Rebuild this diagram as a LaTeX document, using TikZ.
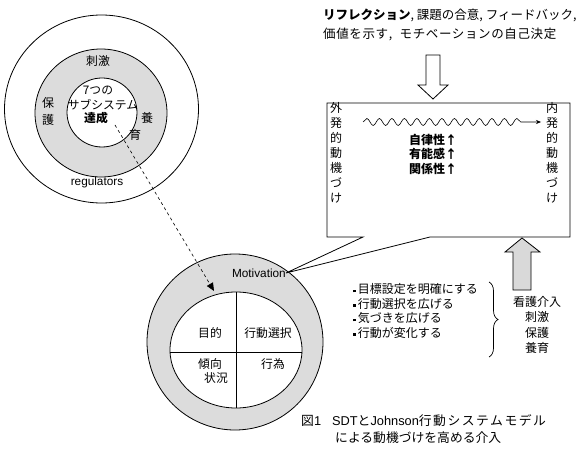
\documentclass[tikz,border=0pt]{standalone}
\usepackage{fontspec}
\setmainfont{Noto Sans CJK JP}
\newfontfamily\lat{Liberation Sans}
\usetikzlibrary{arrows.meta,decorations.pathmorphing,decorations.pathreplacing}
\definecolor{ringgray}{HTML}{DCDCDC}
\definecolor{arrowgray}{HTML}{D9D9D9}
\tikzset{
  txt/.style={font=\fontsize{11.8}{13.5}\selectfont, inner sep=0pt},
  vtxt/.style={font=\fontsize{12}{15}\selectfont, inner sep=0pt, align=center},
  toptxt/.style={font=\fontsize{12.5}{14}\selectfont, inner sep=0pt, anchor=west},
  capt/.style={font=\fontsize{12.8}{14}\selectfont, inner sep=0pt, anchor=west},
  outline/.style={draw=black, line width=0.8pt},
  blockarrow/.style={draw=black, line width=0.8pt, line join=miter},
  wavy/.style={line width=0.6pt, decorate, decoration={snake, segment length=12.5pt, amplitude=3.5pt, post length=14pt}},
}
\newcommand{\bul}{\raisebox{1.5pt}{\rule{2.6pt}{2.6pt}}\hspace{2pt}}
\begin{document}
\begin{tikzpicture}[x=1pt,y=-1pt]
\useasboundingbox (0,0) rectangle (578,449);

% ---------- left model ----------
\draw[outline] (101.5,109) ellipse [x radius=97, y radius=94];
\draw[outline, fill=ringgray] (101,113) ellipse [x radius=66, y radius=64];
\draw[outline, fill=white] (102,112.5) ellipse [x radius=35, y radius=34.5];
\node[txt] (shigeki) at (98,61) {刺激};
\node[txt] (seven) at (98,90) {7つの};
\node[txt] (sub) at (103,105) {サブシステム};
\node[txt, font=\fontsize{11.8}{13.5}\selectfont\bfseries] (tassei) at (96,118) {達成};
\node[vtxt, font=\fontsize{12}{17}\selectfont] (hogo) at (48,111) {保\\護};
\node[txt, font=\fontsize{12}{13.5}\selectfont] (you) at (147,118) {養};
\node[txt, font=\fontsize{12}{13.5}\selectfont] (iku) at (135,135) {育};
\node[txt, font=\fontsize{11.8}{13.5}\lat] (reg) at (97,182) {regulators};

% ---------- bottom model ----------
\draw[outline, fill=ringgray] (235,342) circle [radius=88];
\draw[outline, fill=white] (236,350) ellipse [x radius=66, y radius=58];
\draw[outline] (170,352) -- (302,352);
\draw[outline] (236,292) -- (236,408);
\node[txt] (mokuteki) at (210,333) {目的};
\node[txt] (sentaku) at (268,333) {行動選択};
\node[txt] (keikou) at (210,364) {傾向};
\node[txt] (joukyou) at (216,378) {状況};
\node[txt] (koui) at (273,364) {行為};
\node[txt, font=\fontsize{11.8}{13.5}\lat, anchor=east] (mot) at (286,273) {Motivation};

% dashed link
\coordinate (dstart) at (115,125);
\coordinate (dend) at (214,291);
\draw[dashed, line width=0.6pt, -{Triangle[length=8pt,width=7pt]}] (dstart) -- (dend);

% ---------- callout box ----------
\coordinate (b1) at (327,103);
\coordinate (b2) at (570,103);
\coordinate (b3) at (570,237);
\coordinate (pB) at (430,237);
\coordinate (pA) at (363,237);
\coordinate (b4) at (327,237);
\draw[outline, fill=white, line join=miter] (b1) -- (b2) -- (b3) -- (pB) -- (mot.east) -- (pA) -- (b4) -- cycle;

\node[vtxt] (gai) at (336,153) {外\\発\\的\\動\\機\\づ\\け};
\node[vtxt] (nai) at (552,153) {内\\発\\的\\動\\機\\づ\\け};
\coordinate (w1) at (363,122);
\coordinate (w2) at (541,122);
\draw[wavy, -{Stealth[length=5pt,width=4pt]}] (w1) -- (w2);
\node[txt, font=\fontsize{12}{14.5}\selectfont\bfseries, align=left] (sdt) at (433,154) {自律性↑\\有能感↑\\関係性↑};

% ---------- top text & arrow ----------
\node[toptxt] (top1) at (323,15) {{\bfseries リフレクション}, 課題の合意, フィードバック,};
\node[toptxt] (top2) at (323,34) {\addfontfeature{LetterSpace=5}価値を示す,\hspace{4pt} モチベーションの自己決定};
\draw[blockarrow, fill=white] (426,55) -- (440,55) -- (440,85) -- (448,85) -- (433,99) -- (418,85) -- (426,85) -- cycle;

% ---------- bottom right ----------
\draw[blockarrow, fill=arrowgray] (513,290) -- (531,290) -- (531,252) -- (540,252) -- (522,238) -- (505,252) -- (513,252) -- cycle;
\node[txt, font=\fontsize{12}{14.5}\selectfont, align=left, anchor=west] (list) at (353,311)
  {\bul 目標設定を明確にする\\\bul 行動選択を広げる\\\bul 気づきを広げる\\\bul 行動が変化する};
\coordinate (br1) at (489,282);
\coordinate (br2) at (489,357);
\draw[line width=0.7pt, decorate, decoration={brace, amplitude=9pt}] (br1) -- (br2);
\node[vtxt, font=\fontsize{12}{15.3}\selectfont] (kango) at (537,325) {看護介入\\刺激\\保護\\養育};

% ---------- caption ----------
\node[capt] (cap1) at (301,421) {図{\lat 1}\hspace{11pt}{\lat SDT}と{\lat Johnson}{\addfontfeature{LetterSpace=12}行動システムモデル}};
\node[capt] (cap2) at (335,438) {による動機づけを高める介入};
\end{tikzpicture}
\end{document}
